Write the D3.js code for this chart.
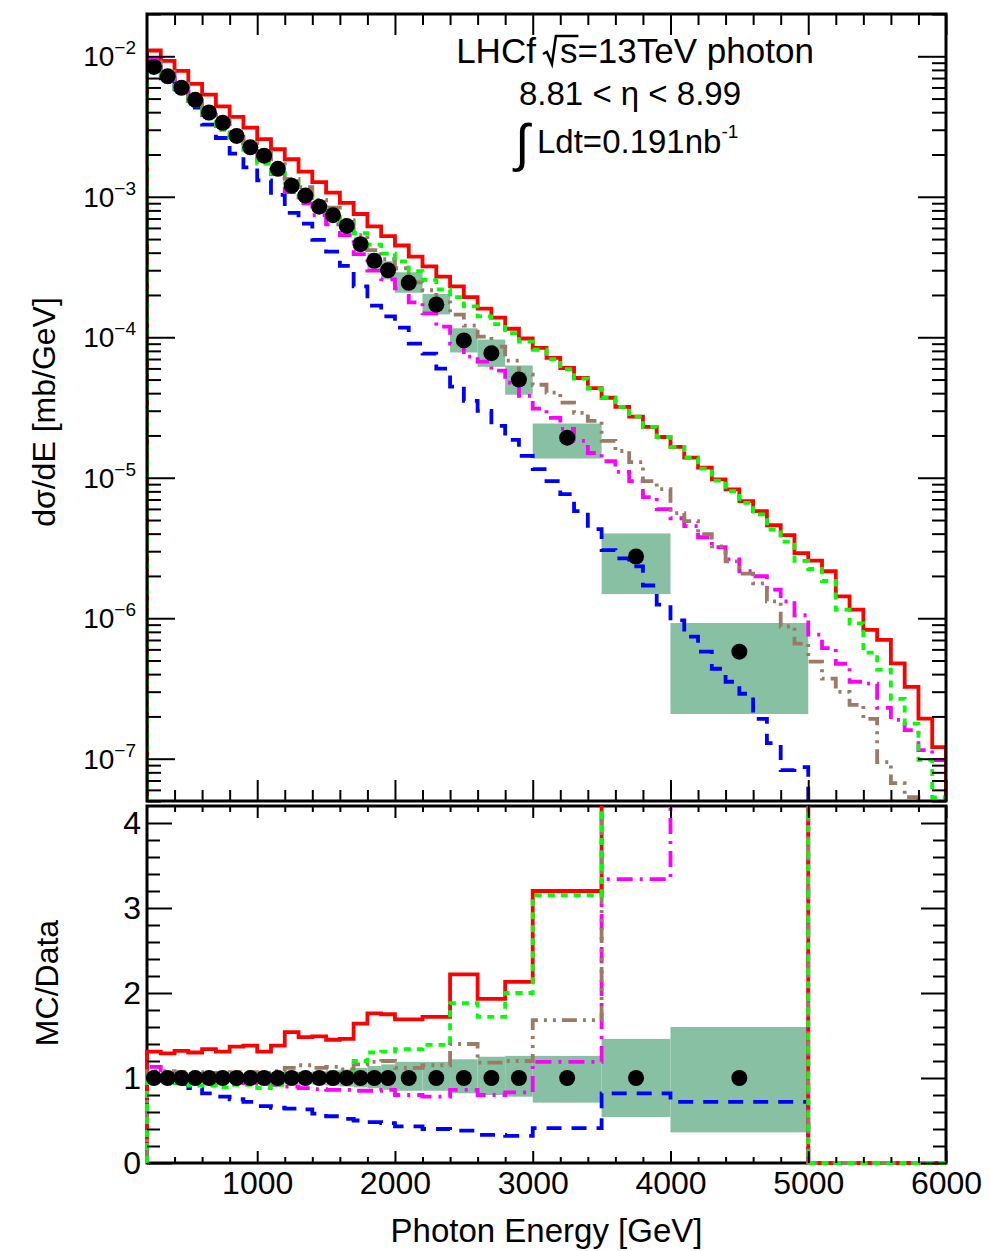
<!DOCTYPE html>
<html>
<head>
<meta charset="utf-8">
<script src="https://cdn.jsdelivr.net/npm/d3@7"></script>
<style>
  body { margin: 0; background: #fff; }
  text { font-family: "Liberation Sans", Arial, Helvetica, sans-serif; fill: #000; }
</style>
</head>
<body>
<svg id="chart" width="990" height="1251"></svg>
<script>
// MC histogram bin edges (GeV), 100 GeV bins
const mcEdges = [200, 300, 400, 500, 600, 700, 800, 900, 1000, 1100, 1200, 1300, 1400, 1500, 1600, 1700, 1800, 1900,
  2000, 2100, 2200, 2300, 2400, 2500, 2600, 2700, 2800, 2900, 3000, 3100, 3200, 3300, 3400, 3500, 3600, 3700, 3800,
  3900, 4000, 4100, 4200, 4300, 4400, 4500, 4600, 4700, 4800, 4900, 5000, 5100, 5200, 5300, 5400, 5500, 5600, 5700,
  5800, 5900, 6000];

// dsigma/dE [mb/GeV] per MC model
const mcRed = [1.10e-2, 9.29e-3, 7.88e-3, 6.37e-3, 5.33e-3, 4.40e-3, 3.71e-3, 3.11e-3, 2.57e-3, 2.18e-3, 1.85e-3,
  1.51e-3, 1.27e-3, 1.07e-3, 9.05e-4, 7.54e-4, 6.16e-4, 5.25e-4, 4.50e-4, 3.75e-4, 3.20e-4, 2.70e-4, 2.30e-4, 1.93e-4,
  1.60e-4, 1.38e-4, 1.15e-4, 9.8e-5, 8.4e-5, 7.13e-5, 6.04e-5, 5.13e-5, 4.35e-5, 3.71e-5, 3.20e-5, 2.72e-5, 2.30e-5,
  1.95e-5, 1.66e-5, 1.39e-5, 1.18e-5, 9.74e-6, 8.27e-6, 6.82e-6, 5.78e-6, 4.59e-6, 3.90e-6, 2.91e-6, 2.57e-6, 2.16e-6,
  1.43e-6, 1.15e-6, 8.26e-7, 7.01e-7, 4.77e-7, 3.25e-7, 1.93e-7, 1.21e-7];
const mcGreen = [8.36e-3, 6.87e-3, 5.59e-3, 4.46e-3, 3.62e-3, 2.99e-3, 2.49e-3, 2.08e-3, 1.72e-3, 1.46e-3, 1.26e-3,
  1.04e-3, 8.89e-4, 7.60e-4, 6.52e-4, 5.50e-4, 4.56e-4, 3.94e-4, 3.47e-4, 2.96e-4, 2.56e-4, 2.19e-4, 1.93e-4, 1.66e-4,
  1.41e-4, 1.24e-4, 1.07e-4, 9.31e-5, 8.15e-5, 6.99e-5, 5.92e-5, 5.08e-5, 4.31e-5, 3.71e-5, 3.20e-5, 2.72e-5, 2.30e-5,
  1.95e-5, 1.66e-5, 1.39e-5, 1.16e-5, 9.55e-6, 8.02e-6, 6.62e-6, 5.49e-6, 4.27e-6, 3.51e-6, 2.56e-6, 2.24e-6, 1.84e-6,
  1.15e-6, 9.2e-7, 5.69e-7, 4.3e-7, 2.67e-7, 1.78e-7, 9.8e-8, 5.3e-8];
const mcBlue = [8.40e-3, 6.98e-3, 5.55e-3, 4.31e-3, 3.26e-3, 2.62e-3, 2.03e-3, 1.62e-3, 1.31e-3, 1.03e-3, 7.68e-4,
  6.43e-4, 4.93e-4, 4.07e-4, 3.22e-4, 2.30e-4, 1.68e-4, 1.41e-4, 1.17e-4, 9.01e-5, 7.65e-5, 5.98e-5, 4.45e-5, 3.53e-5,
  2.99e-5, 2.34e-5, 1.86e-5, 1.43e-5, 1.15e-5, 9.47e-6, 7.65e-6, 5.78e-6, 4.31e-6, 3.05e-6, 2.67e-6, 2.34e-6, 1.71e-6,
  1.25e-6, 9.64e-7, 7.40e-7, 5.78e-7, 4.37e-7, 3.53e-7, 2.90e-7, 1.92e-7, 1.29e-7, 8.3e-8, 8.7e-8, 4.0e-8, 2.5e-8,
  1.8e-8, 1.2e-8, 8e-9, 5e-9, 3e-9, 2e-9, 1e-9, 1e-9];
const mcMagenta = [9.49e-3, 7.56e-3, 5.97e-3, 4.80e-3, 3.82e-3, 3.19e-3, 2.57e-3, 2.12e-3, 1.82e-3, 1.45e-3, 1.08e-3,
  8.98e-4, 7.40e-4, 6.36e-4, 5.33e-4, 3.91e-4, 2.98e-4, 2.58e-4, 2.23e-4, 1.77e-4, 1.48e-4, 1.19e-4, 9.01e-5, 7.28e-5,
  6.70e-5, 5.78e-5, 4.75e-5, 3.83e-5, 3.10e-5, 2.67e-5, 2.23e-5, 1.83e-5, 1.50e-5, 1.31e-5, 1.10e-5, 9.47e-6, 7.28e-6,
  5.97e-6, 5.15e-6, 4.52e-6, 3.77e-6, 3.20e-6, 2.62e-6, 2.16e-6, 1.99e-6, 1.60e-6, 1.32e-6, 1.05e-6, 7.65e-7, 6.12e-7,
  4.74e-7, 3.53e-7, 3.42e-7, 2.30e-7, 1.89e-7, 1.60e-7, 1.15e-7, 9.79e-8];
const mcBrown = [9.07e-3, 7.78e-3, 6.39e-3, 5.24e-3, 4.22e-3, 3.56e-3, 2.90e-3, 2.41e-3, 2.08e-3, 1.71e-3, 1.34e-3,
  1.17e-3, 9.52e-4, 8.36e-4, 6.82e-4, 5.34e-4, 4.17e-4, 3.60e-4, 3.10e-4, 2.46e-4, 2.16e-4, 1.77e-4, 1.45e-4, 1.21e-4,
  1.01e-4, 8.59e-5, 6.82e-5, 5.42e-5, 4.59e-5, 4.03e-5, 3.42e-5, 2.90e-5, 2.54e-5, 1.83e-5, 1.55e-5, 1.29e-5, 9.47e-6,
  8.30e-6, 5.60e-6, 4.91e-6, 3.97e-6, 3.25e-6, 2.54e-6, 2.08e-6, 1.77e-6, 1.32e-6, 8.73e-7, 6.59e-7, 4.91e-7, 3.71e-7,
  2.99e-7, 2.42e-7, 1.92e-7, 9.46e-8, 6.70e-8, 5.32e-8, 3.83e-8, 2.99e-8];

// data binning, measured values and systematic (relative) errors
const dataEdges = [200, 300, 400, 500, 600, 700, 800, 900, 1000, 1100, 1200, 1300, 1400, 1500, 1600, 1700, 1800, 1900,
  2000, 2200, 2400, 2600, 2800, 3000, 3500, 4000, 5000];
const dataValues = [8.4e-3, 7.2e-3, 5.97e-3, 4.9e-3, 3.98e-3, 3.36e-3, 2.71e-3, 2.25e-3, 1.96e-3, 1.58e-3, 1.2e-3,
  1.02e-3, 8.5e-4, 7.4e-4, 6.2e-4, 4.6e-4, 3.5e-4, 3.0e-4, 2.44e-4, 1.71e-4, 9.5e-5, 7.7e-5, 5.0e-5, 1.93e-5, 2.75e-6,
  5.78e-7];
const sysUp = [0.06, 0.05, 0.05, 0.05, 0.05, 0.05, 0.05, 0.05, 0.06, 0.06, 0.07, 0.07, 0.08, 0.09, 0.10, 0.12, 0.14,
  0.16, 0.19, 0.19, 0.22, 0.25, 0.26, 0.26, 0.46, 0.60];
const sysDown = [0.05, 0.05, 0.05, 0.05, 0.05, 0.05, 0.05, 0.05, 0.06, 0.06, 0.07, 0.07, 0.08, 0.09, 0.10, 0.11, 0.12,
  0.14, 0.15, 0.15, 0.18, 0.20, 0.22, 0.29, 0.46, 0.64];

// MC/Data ratio, data binning plus the empty 5000-6000 bin
const ratioEdges = [200, 300, 400, 500, 600, 700, 800, 900, 1000, 1100, 1200, 1300, 1400, 1500, 1600, 1700, 1800, 1900,
  2000, 2200, 2400, 2600, 2800, 3000, 3500, 4000, 5000, 6000];
const ratioRed = [1.31, 1.29, 1.32, 1.30, 1.34, 1.31, 1.37, 1.38, 1.31, 1.38, 1.54, 1.48, 1.49, 1.45, 1.46, 1.64, 1.76,
  1.75, 1.69, 1.72, 2.22, 1.93, 2.13, 3.20, 10.1, 14.6, 0];
const ratioGreen = [1.0, 0.95, 0.94, 0.91, 0.91, 0.89, 0.92, 0.92, 0.88, 0.92, 1.05, 1.02, 1.04, 1.03, 1.05, 1.20, 1.30,
  1.31, 1.34, 1.39, 1.88, 1.72, 2.00, 3.15, 9.9, 13.5, 0];
const ratioBlue = [1.0, 0.97, 0.93, 0.88, 0.82, 0.78, 0.75, 0.72, 0.67, 0.65, 0.64, 0.63, 0.58, 0.55, 0.52, 0.50, 0.48,
  0.47, 0.43, 0.40, 0.38, 0.33, 0.32, 0.41, 0.82, 0.72, 0];
const ratioMagenta = [1.13, 1.05, 1.0, 0.98, 0.96, 0.95, 0.95, 0.94, 0.93, 0.92, 0.90, 0.88, 0.87, 0.86, 0.86, 0.85,
  0.85, 0.86, 0.80, 0.78, 0.86, 0.80, 0.83, 1.19, 3.34, 4.7, 0];
const ratioBrown = [1.08, 1.08, 1.07, 1.07, 1.06, 1.06, 1.07, 1.07, 1.06, 1.08, 1.12, 1.15, 1.12, 1.13, 1.10, 1.16,
  1.19, 1.20, 1.12, 1.15, 1.40, 1.18, 1.20, 1.68, 4.7, 4.7, 0];

const xMajor = [1000, 2000, 3000, 4000, 5000, 6000];
const yTopMajor = [1e-2, 1e-3, 1e-4, 1e-5, 1e-6, 1e-7];
const yTopLabels = ["2", "3", "4", "5", "6", "7"];
const yBotMajor = [0, 1, 2, 3, 4];

const svg = d3.select("#chart");
const L = 147, R = 946, T1 = 14, B1 = 801, T2 = 806, B2 = 1163;

const x = d3.scaleLinear().domain([200, 6000]).range([L, R]);
const yTop = d3.scaleLog().domain([5e-8, 2e-2]).range([B1, T1]);
const yBot = d3.scaleLinear().domain([0, 4.2]).range([B2, T2]);

const defs = svg.append("defs");
defs.append("clipPath").attr("id", "clipTop").append("rect")
  .attr("x", L).attr("y", T1).attr("width", R - L).attr("height", B1 - T1);
defs.append("clipPath").attr("id", "clipBot").append("rect")
  .attr("x", L - 2).attr("y", T2).attr("width", R - L + 4).attr("height", B2 - T2 + 2);

const boxColor = "#87c0a3";

// step histogram, starting and ending at the baseline like ROOT "hist"
function stepPoints(edges, vals, base) {
  const pts = [[edges[0], base]];
  vals.forEach((v, i) => { pts.push([edges[i], v]); pts.push([edges[i + 1], v]); });
  pts.push([edges[edges.length - 1], base]);
  return pts;
}

const models = [
  { top: mcBlue, ratio: ratioBlue, color: "#0000ff", dash: "15,10" },
  { top: mcMagenta, ratio: ratioMagenta, color: "#ff00ff", dash: "16,7,3,7" },
  { top: mcRed, ratio: ratioRed, color: "#ff0000", dash: null },
  { top: mcBrown, ratio: ratioBrown, color: "#9c7a66", dash: "15,6,3,6,3,6" },
  { top: mcGreen, ratio: ratioGreen, color: "#00ff00", dash: "7,6" }
];

const dataBins = dataValues.map((v, i) => ({
  e0: dataEdges[i], e1: dataEdges[i + 1], v: v, up: sysUp[i], dn: sysDown[i]
}));

// ratio panel frame goes under its histograms (ROOT draws them over the axis)
svg.append("rect").attr("x", L).attr("y", T2).attr("width", R - L).attr("height", B2 - T2)
  .attr("fill", "none").attr("stroke", "#000").attr("stroke-width", 3);

// ---------- upper panel ----------
const upper = svg.append("g").attr("clip-path", "url(#clipTop)");
upper.selectAll("rect.sys").data(dataBins).enter().append("rect")
  .attr("class", "sys")
  .attr("x", d => x(d.e0)).attr("width", d => x(d.e1) - x(d.e0))
  .attr("y", d => yTop(d.v * (1 + d.up)))
  .attr("height", d => yTop(d.v * (1 - d.dn)) - yTop(d.v * (1 + d.up)))
  .attr("fill", boxColor);

const lineTop = d3.line().x(d => x(d[0])).y(d => yTop(d[1]));
models.forEach(m => {
  upper.append("path")
    .attr("d", lineTop(stepPoints(mcEdges, m.top, 1e-10)))
    .attr("fill", "none").attr("stroke", m.color).attr("stroke-width", 3.8)
    .attr("stroke-dasharray", m.dash).attr("stroke-linejoin", "miter");
});

upper.selectAll("circle").data(dataBins).enter().append("circle")
  .attr("cx", d => x((d.e0 + d.e1) / 2)).attr("cy", d => yTop(d.v)).attr("r", 8).attr("fill", "#000");

// ---------- ratio panel ----------
const lower = svg.append("g").attr("clip-path", "url(#clipBot)");
lower.selectAll("rect.sys").data(dataBins).enter().append("rect")
  .attr("class", "sys")
  .attr("x", d => x(d.e0)).attr("width", d => x(d.e1) - x(d.e0))
  .attr("y", d => yBot(1 + d.up))
  .attr("height", d => yBot(1 - d.dn) - yBot(1 + d.up))
  .attr("fill", boxColor);

const lineBot = d3.line().x(d => x(d[0])).y(d => yBot(d[1]));
models.forEach(m => {
  lower.append("path")
    .attr("d", lineBot(stepPoints(ratioEdges, m.ratio, 0)))
    .attr("fill", "none").attr("stroke", m.color).attr("stroke-width", 3.8)
    .attr("stroke-dasharray", m.dash).attr("stroke-linejoin", "miter");
});

lower.selectAll("circle").data(dataBins).enter().append("circle")
  .attr("cx", d => x((d.e0 + d.e1) / 2)).attr("cy", yBot(1)).attr("r", 8).attr("fill", "#000");

// ---------- ticks and frames ----------
const xMinor = d3.range(400, 6000, 200).filter(v => v % 1000 !== 0);
const yTopMinor = yTop.ticks().filter(v => !yTopMajor.some(m => Math.abs(v / m - 1) < 1e-6));
const yBotMinor = d3.range(0.2, 4.2, 0.2).filter(v => Math.abs(v - Math.round(v)) > 1e-6);

function tickAxis(axis, tx, ty, vals, size) {
  const g = svg.append("g").attr("transform", `translate(${tx},${ty})`)
    .call(axis.tickValues(vals).tickSize(size).tickFormat(""));
  g.select(".domain").remove();
  g.selectAll(".tick line").attr("stroke", "#000").attr("stroke-width", 2);
  return g;
}

// upper panel ticks
tickAxis(d3.axisBottom(x), 0, B1, xMajor, -21);
tickAxis(d3.axisBottom(x), 0, B1, xMinor, -11);
tickAxis(d3.axisTop(x), 0, T1, xMajor, -21);
tickAxis(d3.axisTop(x), 0, T1, xMinor, -11);
tickAxis(d3.axisLeft(yTop), L, 0, yTopMajor, -28);
tickAxis(d3.axisLeft(yTop), L, 0, yTopMinor, -14);
tickAxis(d3.axisRight(yTop), R, 0, yTopMajor, -28);
tickAxis(d3.axisRight(yTop), R, 0, yTopMinor, -14);

// ratio panel ticks
tickAxis(d3.axisTop(x), 0, T2, xMajor, -12);
tickAxis(d3.axisTop(x), 0, T2, xMinor, -6);
tickAxis(d3.axisLeft(yBot), L, 0, yBotMinor, -13);
tickAxis(d3.axisRight(yBot), R, 0, yBotMajor, -25);
tickAxis(d3.axisRight(yBot), R, 0, yBotMinor, -13);
tickAxis(d3.axisBottom(x), 0, B2, xMinor, -6);

const xLab = svg.append("g").attr("transform", `translate(0,${B2})`)
  .call(d3.axisBottom(x).tickValues(xMajor).tickSize(-12).tickPadding(8).tickFormat(d3.format("d")));
xLab.select(".domain").remove();
xLab.selectAll(".tick line").attr("stroke", "#000").attr("stroke-width", 2);
xLab.selectAll(".tick text").style("font-size", "32px")
  .style("font-family", "'Liberation Sans', Arial, sans-serif");

const yLab = svg.append("g").attr("transform", `translate(${L},0)`)
  .call(d3.axisLeft(yBot).tickValues(yBotMajor).tickSize(-25).tickPadding(6).tickFormat(d3.format("d")));
yLab.select(".domain").remove();
yLab.selectAll(".tick line").attr("stroke", "#000").attr("stroke-width", 2);
yLab.selectAll(".tick text").style("font-size", "32px")
  .style("font-family", "'Liberation Sans', Arial, sans-serif");

// log labels 10^-n
yTopMajor.forEach((v, i) => {
  const t = svg.append("text").attr("x", 136).attr("y", yTop(v) + 10)
    .attr("text-anchor", "end").style("font-size", "28px");
  t.append("tspan").text("10");
  t.append("tspan").attr("dy", -12).style("font-size", "19px").text("\u2212" + yTopLabels[i]);
});

svg.append("rect").attr("x", L).attr("y", T1).attr("width", R - L).attr("height", B1 - T1)
  .attr("fill", "none").attr("stroke", "#000").attr("stroke-width", 3);

// ---------- titles ----------
svg.append("text").attr("x", (L + R) / 2).attr("y", 1242).attr("text-anchor", "middle")
  .style("font-size", "33px").text("Photon Energy [GeV]");
svg.append("text").attr("transform", "translate(58,983) rotate(-90)").attr("text-anchor", "middle")
  .style("font-size", "32px").text("MC/Data");
svg.append("text").attr("transform", "translate(55,412) rotate(-90)").attr("text-anchor", "middle")
  .style("font-size", "32px").text("d\u03c3/dE [mb/GeV]");

// ---------- annotation ----------
const l1 = svg.append("text").attr("x", 635).attr("y", 63).attr("text-anchor", "middle").style("font-size", "35px");
l1.append("tspan").text("LHCf");
l1.append("tspan").attr("dx", 24).text("s=13TeV photon");
const sExt = l1.node().getExtentOfChar(4);
const sTop = 63 - 27;
svg.append("path")
  .attr("d", `M${sExt.x - 17},${63 - 9} L${sExt.x - 13},${63 - 11} L${sExt.x - 8},${63 + 1} L${sExt.x - 4},${sTop} L${sExt.x + sExt.width + 1},${sTop}`)
  .attr("fill", "none").attr("stroke", "#000").attr("stroke-width", 2.5);

svg.append("text").attr("x", 630).attr("y", 105).attr("text-anchor", "middle").style("font-size", "33px")
  .text("8.81 < \u03b7 < 8.99");

svg.append("text").attr("x", 515).attr("y", 161).style("font-size", "52px").text("\u222b");
const l3 = svg.append("text").attr("x", 537).attr("y", 153).style("font-size", "33px");
l3.append("tspan").text("Ldt=0.191nb");
l3.append("tspan").attr("dy", -15).style("font-size", "19px").text("-1");
</script>
</body>
</html>
